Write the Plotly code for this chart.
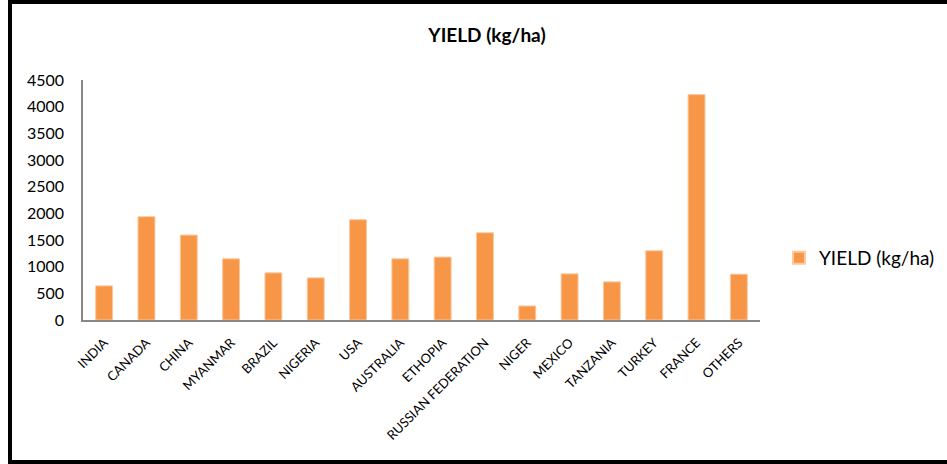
import plotly.graph_objects as go

countries = ["INDIA", "CANADA", "CHINA", "MYANMAR", "BRAZIL", "NIGERIA", "USA",
             "AUSTRALIA", "ETHOPIA", "RUSSIAN FEDERATION", "NIGER", "MEXICO",
             "TANZANIA", "TURKEY", "FRANCE", "OTHERS"]
yield_kg_ha = [640, 1937, 1592, 1147, 884, 790, 1881, 1147, 1179, 1636, 263, 865,
               715, 1298, 4226, 859]
y_ticks = [0, 500, 1000, 1500, 2000, 2500, 3000, 3500, 4000, 4500]

W, H = 947, 464
L, R, T, B = 83, 187, 80, 144
pw, ph = W - L - R, H - T - B

def px(x):
    return (x - L) / pw

def py(y):
    return (H - B - y) / ph

fig = go.Figure()
fig.add_trace(go.Bar(
    x=countries, y=yield_kg_ha, name="YIELD (kg/ha)",
    marker=dict(color="#F79646", line=dict(color="#FAC9A0", width=1)),
))

fig.update_layout(
    width=W, height=H,
    margin=dict(l=L, r=R, t=T, b=B, autoexpand=False),
    paper_bgcolor="white", plot_bgcolor="white",
    font=dict(family="Lato, Open Sans, sans-serif", color="#000000"),
    title=dict(text="<b>YIELD (kg/ha)</b>", x=px(487), xref="paper", xanchor="center",
               y=1 - 35 / H, yref="container", yanchor="middle",
               font=dict(size=19, color="#000000")),
    bargap=0.6,
    showlegend=True,
    legend=dict(x=px(779), y=py(258), xanchor="left", yanchor="middle",
                font=dict(size=19, color="#000000"), itemsizing="constant",
                itemwidth=30),
    xaxis=dict(tickangle=-45, tickfont=dict(size=13), showline=True,
               linecolor="#888888", linewidth=2, ticks="", showgrid=False,
               ticklabelstandoff=8, automargin=False),
    yaxis=dict(range=[0, 4500], tickvals=y_ticks, tickfont=dict(size=16),
               showline=True, linecolor="#888888", linewidth=1.5, showgrid=False,
               ticks="", zeroline=False, ticklabelstandoff=14, automargin=False),
)

# outer frame (top, left, bottom)
frame = dict(type="line", xref="paper", yref="paper", line=dict(color="black", width=4))
fig.add_shape(**frame, x0=px(8), x1=px(947), y0=py(2), y1=py(2))
fig.add_shape(**frame, x0=px(10), x1=px(10), y0=py(2), y1=py(462))
fig.add_shape(**frame, x0=px(8), x1=px(947), y0=py(462), y1=py(462))

fig.write_html("out.html")
